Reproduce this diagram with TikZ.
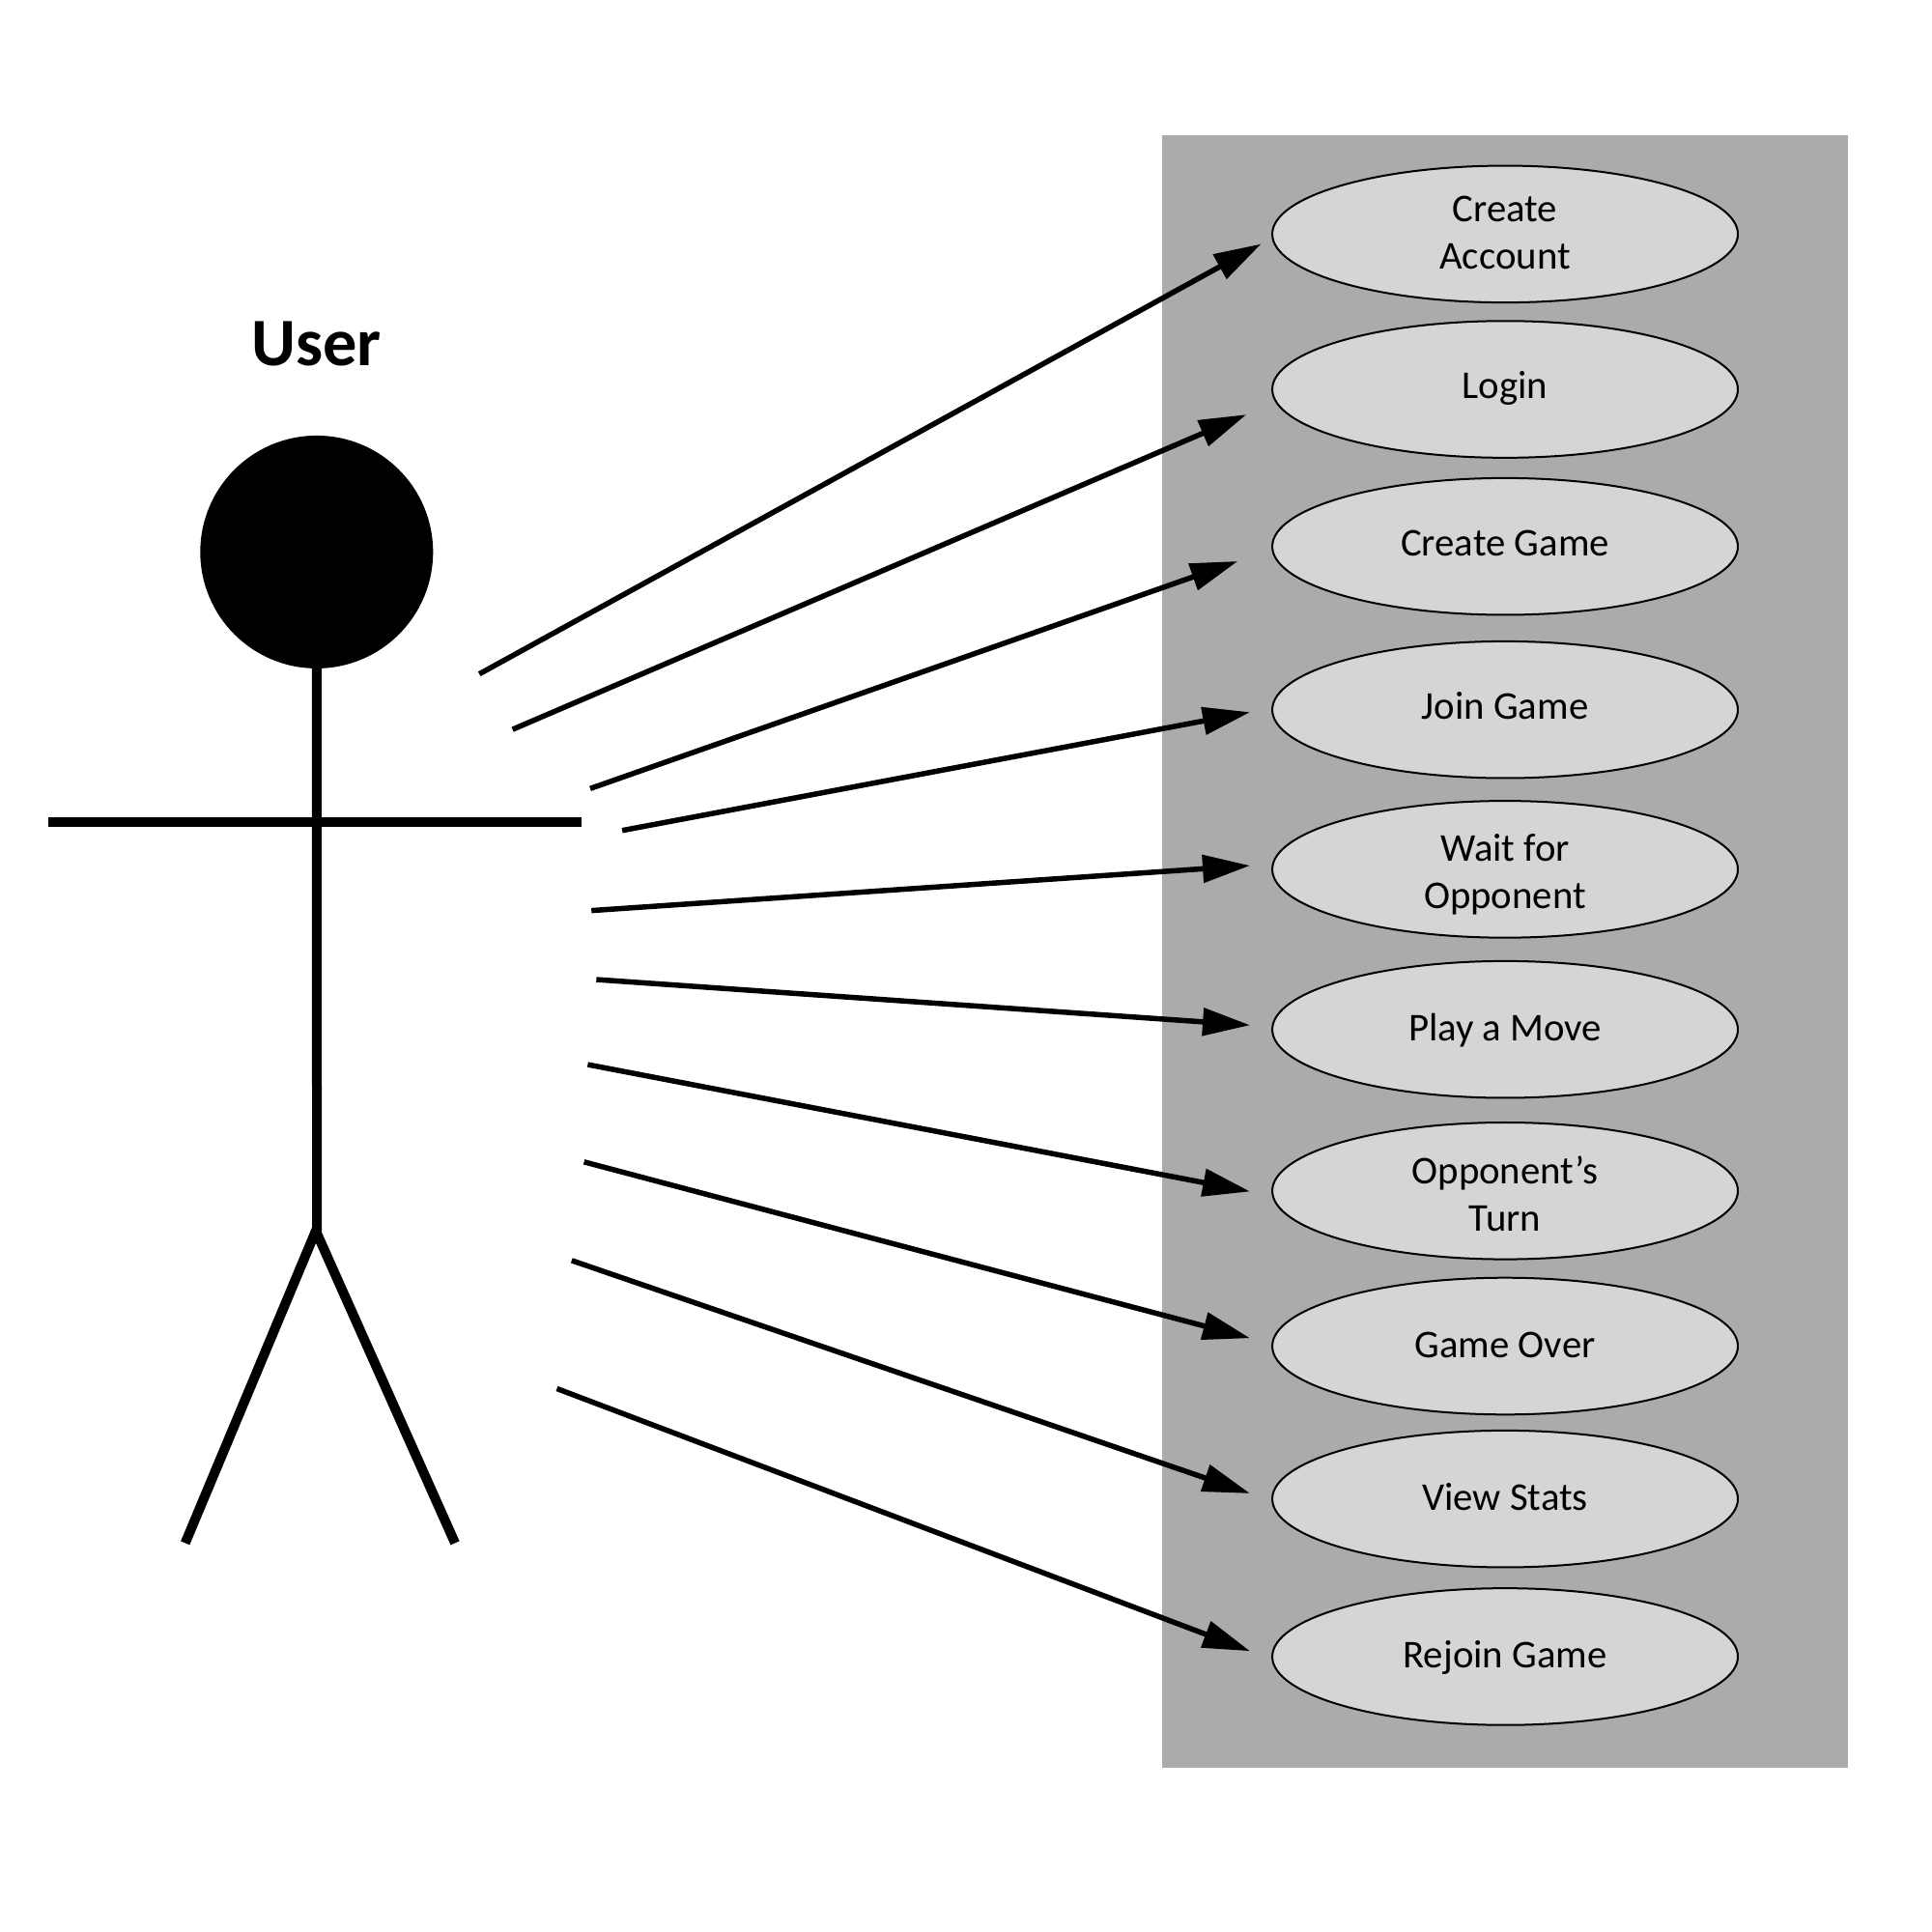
\documentclass[tikz,border=0pt]{standalone}
\usepackage{fontspec}
\setmainfont{Carlito}
\usetikzlibrary{arrows.meta,shapes.geometric}
\definecolor{panelgray}{HTML}{ABABAB}
\definecolor{casegray}{HTML}{D5D5D5}
\tikzset{
  usecase/.style={ellipse,draw=black,line width=0.02cm,fill=casegray,minimum width=4.82cm,minimum height=1.416cm,inner sep=0pt,outer sep=0pt,align=center,font=\fontsize{11.6pt}{13.8pt}\selectfont},
  fixdepth/.style={text height=0.28cm,text depth=#1},
  fixheight/.style={text height=#1,text depth=0.05cm},
  link/.style={line width=0.055cm,-{Triangle[length=0.49cm,width=0.28cm]}},
  limb/.style={line width=0.1cm,draw=black},
}
\begin{document}
\begin{tikzpicture}[x=0.012755cm,y=-0.012755cm]
\useasboundingbox (0,0) rectangle (1568,1568);
\fill[white] (0,0) rectangle (1568,1568);
\node[rectangle,fill=panelgray,inner sep=0pt,outer sep=0pt,minimum width=7.105cm,minimum height=16.9cm] (panel) at (1221.5,772.5) {};
% use cases
\node[usecase,fixheight=0.764cm] (c1) at (1221.5,190) {Create\\Account};
\node[usecase,fixdepth=0.10cm] (c2) at (1221.5,316) {Login};
\node[usecase,fixdepth=0.0745cm] (c3) at (1221.5,443.5) {Create Game};
\node[usecase,fixdepth=0.0745cm] (c4) at (1221.5,576) {Join Game};
\node[usecase,fixheight=0.859cm] (c5) at (1221.5,705.5) {Wait for\\Opponent};
\node[usecase,fixdepth=0.049cm] (c6) at (1221.5,835.5) {Play a Move};
\node[usecase,fixheight=0.879cm] (c7) at (1221.5,966.5) {Opponent’s\\Turn};
\node[usecase,fixdepth=0.049cm] (c8) at (1221.5,1092.5) {Game Over};
\node[usecase,fixdepth=0.049cm] (c9) at (1221.5,1216.5) {View Stats};
\node[usecase,fixdepth=0.049cm] (c10) at (1221.5,1344.5) {Rejoin Game};
% actor
\node[circle,fill=black,inner sep=0pt,outer sep=0pt,minimum size=2.41cm] (head) at (257,448) {};
\node[font=\fontsize{20pt}{24pt}\selectfont\bfseries,anchor=base,inner sep=0pt] (user) at (257,297) {User};
\coordinate (hipS) at (257.2,999.6);
\coordinate (hip) at (256.3,999);
\coordinate (armL) at (39,667);
\coordinate (armR) at (472,667);
\coordinate (footL) at (150.3,1252.3);
\coordinate (footR) at (369.3,1252.3);
\draw[limb] (head.south) -- (hipS);
\draw[limb] (armL) -- (armR);
\draw[limb,line join=miter] (footL) -- (hip) -- (footR);
% connectors
\coordinate (s1) at (389,547);   \coordinate (e1) at (1023.5,198);
\coordinate (s2) at (416,592);   \coordinate (e2) at (1011.5,336.5);
\coordinate (s3) at (479,640);   \coordinate (e3) at (1004.5,455.5);
\coordinate (s4) at (505,674);   \coordinate (e4) at (1014.5,578);
\coordinate (s5) at (480,739);   \coordinate (e5) at (1014.5,702.5);
\coordinate (s6) at (484,795);   \coordinate (e6) at (1014.5,832);
\coordinate (s7) at (477,864);   \coordinate (e7) at (1014.5,967);
\coordinate (s8) at (474,943);   \coordinate (e8) at (1014.5,1086);
\coordinate (s9) at (464,1023);  \coordinate (e9) at (1014.5,1212);
\coordinate (s10) at (452,1127); \coordinate (e10) at (1014.5,1340);
\foreach \i in {1,...,10} \draw[link] (s\i) -- (e\i);
\end{tikzpicture}
\end{document}
